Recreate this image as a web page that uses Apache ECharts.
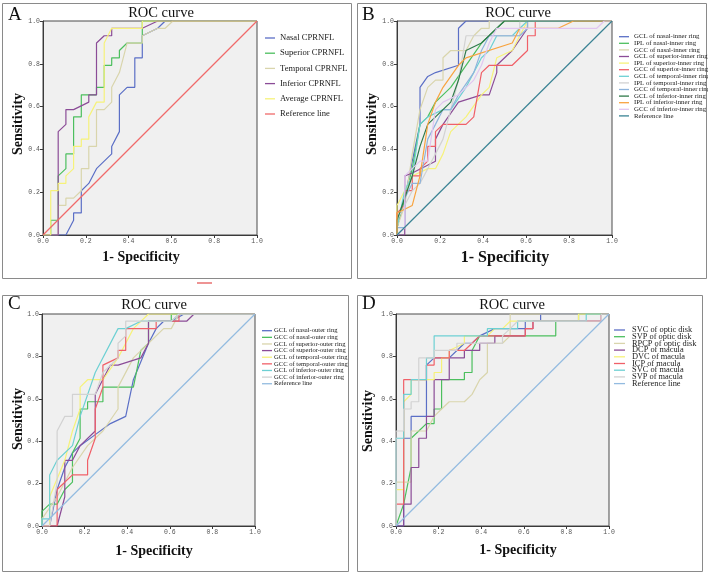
<!DOCTYPE html>
<html><head><meta charset="utf-8">
<script src="https://cdn.jsdelivr.net/npm/echarts@6/dist/echarts.min.js"></script>
<style>html,body{margin:0;padding:0;background:#fff}#c{width:708px;height:575px}</style>
</head><body><div id="c"></div>
<script>
// ---------- Panel A: CPRNFL ----------
const namesA = ['Nasal CPRNFL','Superior CPRNFL','Temporal CPRNFL','Inferior CPRNFL','Average CPRNFL','Reference line'];
const A_nasal = [[0,0],[0.107,0],[0.143,0.069],[0.143,0.103],[0.179,0.103],[0.179,0.207],[0.214,0.241],[0.25,0.31],[0.321,0.379],[0.321,0.414],[0.357,0.483],[0.357,0.655],[0.393,0.69],[0.429,0.69],[0.429,0.828],[0.464,0.828],[0.464,0.931],[0.536,0.966],[0.571,1],[1,1]];
const A_superior = [[0,0],[0.036,0],[0.036,0.069],[0.071,0.069],[0.071,0.276],[0.107,0.31],[0.107,0.379],[0.143,0.379],[0.143,0.552],[0.179,0.552],[0.179,0.655],[0.25,0.655],[0.25,0.69],[0.286,0.69],[0.286,0.793],[0.321,0.793],[0.321,0.828],[0.357,0.828],[0.357,0.862],[0.393,0.897],[0.464,0.897],[0.464,1],[1,1]];
const A_temporal = [[0,0],[0.071,0],[0.071,0.138],[0.107,0.138],[0.107,0.172],[0.143,0.172],[0.179,0.207],[0.179,0.31],[0.214,0.31],[0.214,0.414],[0.25,0.414],[0.25,0.586],[0.286,0.586],[0.321,0.621],[0.321,0.69],[0.357,0.759],[0.393,0.897],[0.464,0.897],[0.464,0.931],[0.536,0.966],[0.571,0.966],[0.607,1],[1,1]];
const A_inferior = [[0,0],[0.071,0],[0.071,0.483],[0.107,0.517],[0.107,0.586],[0.143,0.586],[0.214,0.621],[0.214,0.655],[0.25,0.655],[0.25,0.897],[0.286,0.931],[0.321,0.931],[0.321,0.966],[0.464,0.966],[0.536,1],[1,1]];
const A_average = [[0,0],[0.036,0],[0.036,0.207],[0.071,0.207],[0.071,0.241],[0.107,0.241],[0.107,0.276],[0.143,0.31],[0.143,0.414],[0.179,0.414],[0.179,0.448],[0.214,0.448],[0.214,0.552],[0.25,0.621],[0.286,0.621],[0.286,0.897],[0.321,0.966],[0.464,0.966],[0.464,1],[1,1]];
const refLine = [[0,0],[1,1]];

// ---------- Panel B: inner ring ----------
const namesB = ['GCL of nasal-inner ring','IPL of nasal-inner ring','GCC of nasal-inner ring','GCL of superior-inner ring','IPL of superior-inner ring','GCC of superior-inner ring','GCL of temporal-inner ring','IPL of temporal-inner ring','GCC of temporal-inner ring','GCL of inferior-inner ring','IPL of inferior-inner ring','GCC of inferior-inner ring','Reference line'];
const B_gclNasal = [[0,0],[0,0.034],[0.036,0.172],[0.071,0.345],[0.107,0.517],[0.107,0.69],[0.143,0.741],[0.179,0.759],[0.286,0.793],[0.286,0.966],[0.321,1],[1,1]];
const B_iplNasal = [[0,0],[0,0.034],[0.036,0.172],[0.071,0.31],[0.107,0.517],[0.143,0.552],[0.179,0.621],[0.25,0.69],[0.321,0.793],[0.393,0.897],[0.5,1],[1,1]];
const B_gccNasal = [[0,0],[0,0.034],[0.036,0.138],[0.071,0.379],[0.107,0.586],[0.143,0.69],[0.179,0.724],[0.214,0.724],[0.214,0.828],[0.25,0.862],[0.321,0.862],[0.357,0.931],[0.393,0.966],[0.429,0.966],[0.429,1],[1,1]];
const B_gclSup = [[0,0],[0.036,0],[0.036,0.276],[0.071,0.29],[0.179,0.345],[0.179,0.448],[0.214,0.517],[0.286,0.621],[0.393,0.655],[0.429,0.655],[0.464,0.759],[0.464,0.793],[0.536,0.862],[0.607,0.966],[0.607,1],[1,1]];
const B_iplSup = [[0,0],[0,0.138],[0.036,0.207],[0.071,0.276],[0.143,0.31],[0.179,0.31],[0.214,0.379],[0.25,0.483],[0.321,0.552],[0.393,0.655],[0.429,0.69],[0.464,0.828],[0.536,0.862],[0.571,0.931],[0.607,1],[1,1]];
const B_gccSup = [[0,0],[0,0.103],[0.036,0.138],[0.036,0.207],[0.071,0.207],[0.071,0.276],[0.107,0.276],[0.107,0.31],[0.143,0.345],[0.143,0.414],[0.179,0.414],[0.179,0.483],[0.214,0.517],[0.321,0.517],[0.357,0.552],[0.393,0.759],[0.429,0.793],[0.536,0.793],[0.607,0.862],[0.607,0.931],[0.643,0.931],[0.643,1],[1,1]];
const B_gclTemp = [[0,0],[0,0.034],[0.036,0.207],[0.071,0.276],[0.107,0.517],[0.143,0.552],[0.214,0.586],[0.25,0.586],[0.321,0.69],[0.393,0.828],[0.429,0.862],[0.464,0.931],[0.536,0.931],[0.571,0.966],[0.607,1],[1,1]];
const B_iplTemp = [[0,0],[0,0.069],[0.071,0.207],[0.107,0.241],[0.143,0.31],[0.179,0.379],[0.214,0.448],[0.25,0.586],[0.286,0.724],[0.321,0.931],[0.571,0.931],[0.571,1],[1,1]];
const B_gccTemp = [[0,0],[0,0.034],[0.036,0.034],[0.036,0.172],[0.071,0.241],[0.107,0.241],[0.143,0.448],[0.179,0.517],[0.214,0.586],[0.25,0.586],[0.286,0.655],[0.357,0.759],[0.393,0.862],[0.429,0.931],[0.571,0.931],[0.607,0.966],[0.607,1],[1,1]];
const B_gclInf = [[0,0],[0,0.069],[0.071,0.276],[0.107,0.414],[0.143,0.517],[0.25,0.621],[0.286,0.724],[0.321,0.862],[0.393,0.897],[0.464,0.966],[0.5,1],[1,1]];
const B_iplInf = [[0,0],[0,0.103],[0.071,0.138],[0.107,0.276],[0.143,0.517],[0.179,0.621],[0.214,0.69],[0.286,0.793],[0.321,0.828],[0.536,0.897],[0.571,0.966],[0.75,0.966],[0.821,1],[1,1]];
const B_gccInf = [[0,0],[0.036,0.034],[0.036,0.276],[0.071,0.31],[0.107,0.345],[0.143,0.345],[0.179,0.586],[0.214,0.621],[0.286,0.655],[0.357,0.724],[0.393,0.793],[0.429,0.897],[0.464,0.966],[0.929,0.966],[0.964,1],[1,1]];

// ---------- Panel C: outer ring ----------
const namesC = ['GCL of nasal-outer ring','GCC of nasal-outer ring','GCL of superior-outer ring','GCC of superior-outer ring','GCL of temporal-outer ring','GCC of temporal-outer ring','GCL of inferior-outer ring','GCC of inferior-outer ring','Reference line'];
const C_gclNasal = [[0,0],[0.036,0],[0.071,0.172],[0.107,0.276],[0.143,0.345],[0.179,0.379],[0.25,0.431],[0.321,0.483],[0.393,0.517],[0.429,0.69],[0.5,0.862],[0.536,0.931],[0.571,0.966],[0.607,0.966],[0.667,1],[1,1]];
const C_gccNasal = [[0,0],[0,0.069],[0.036,0.103],[0.071,0.103],[0.107,0.172],[0.143,0.207],[0.143,0.345],[0.179,0.414],[0.179,0.552],[0.214,0.552],[0.214,0.586],[0.286,0.586],[0.286,0.655],[0.429,0.655],[0.464,0.828],[0.5,0.862],[0.5,0.966],[0.607,0.966],[0.607,1],[1,1]];
const C_gclSup = [[0,0],[0,0.034],[0.071,0.138],[0.143,0.276],[0.214,0.379],[0.286,0.448],[0.357,0.552],[0.357,0.655],[0.429,0.793],[0.5,0.862],[0.571,0.931],[0.607,0.931],[0.643,1],[1,1]];
const C_gccSup = [[0,0],[0.071,0],[0.107,0.138],[0.107,0.31],[0.143,0.31],[0.179,0.379],[0.25,0.448],[0.25,0.621],[0.321,0.759],[0.357,0.759],[0.464,0.793],[0.5,0.862],[0.5,0.966],[0.679,0.966],[0.714,1],[1,1]];
const C_gclTemp = [[0,0],[0.036,0],[0.036,0.138],[0.107,0.31],[0.143,0.448],[0.179,0.552],[0.179,0.655],[0.214,0.69],[0.286,0.69],[0.357,0.793],[0.393,0.862],[0.429,0.931],[0.5,1],[1,1]];
const C_gccTemp = [[0,0],[0.071,0],[0.071,0.172],[0.143,0.241],[0.214,0.241],[0.214,0.31],[0.25,0.414],[0.25,0.552],[0.286,0.655],[0.286,0.759],[0.357,0.793],[0.357,0.828],[0.393,0.828],[0.393,0.931],[0.536,0.931],[0.536,0.966],[0.643,0.966],[0.643,1],[1,1]];
const C_gclInf = [[0,0],[0,0.034],[0.036,0.034],[0.036,0.241],[0.071,0.31],[0.143,0.379],[0.179,0.517],[0.25,0.724],[0.357,0.931],[0.393,0.931],[0.464,0.966],[0.607,0.966],[0.643,1],[1,1]];
const C_gccInf = [[0,0],[0.036,0],[0.071,0.207],[0.071,0.448],[0.107,0.517],[0.143,0.517],[0.143,0.621],[0.25,0.621],[0.286,0.724],[0.357,0.793],[0.357,0.862],[0.393,0.897],[0.393,0.966],[0.607,0.966],[0.643,1],[1,1]];

// ---------- Panel D: vessel density ----------
const namesD = ['SVC of optic disk','SVP of optic disk','RPCP of optic disk','DCP of macula','DVC of macula','ICP of macula','SVC of macula','SVP of macula','Reference line'];
const D_svcDisk = [[0,0],[0.036,0],[0.036,0.414],[0.071,0.414],[0.071,0.517],[0.143,0.517],[0.143,0.759],[0.179,0.793],[0.25,0.793],[0.286,0.828],[0.321,0.862],[0.357,0.862],[0.393,0.897],[0.464,0.931],[0.607,0.931],[0.607,0.966],[0.679,0.966],[0.679,1],[1,1]];
const D_svpDisk = [[0,0],[0.036,0.103],[0.071,0.276],[0.071,0.414],[0.107,0.448],[0.143,0.483],[0.179,0.483],[0.179,0.552],[0.214,0.552],[0.214,0.69],[0.321,0.69],[0.321,0.724],[0.357,0.724],[0.357,0.828],[0.393,0.897],[0.75,0.897],[0.75,0.966],[0.857,0.966],[0.857,1],[1,1]];
const D_rpcpDisk = [[0,0],[0,0.207],[0.071,0.207],[0.071,0.448],[0.143,0.448],[0.179,0.517],[0.214,0.552],[0.25,0.586],[0.321,0.586],[0.357,0.621],[0.393,0.69],[0.429,0.724],[0.429,0.862],[0.5,0.862],[0.536,0.897],[0.536,1],[1,1]];
const D_dcpMac = [[0,0],[0.036,0],[0.036,0.103],[0.071,0.103],[0.071,0.276],[0.107,0.276],[0.107,0.414],[0.143,0.414],[0.143,0.517],[0.179,0.517],[0.179,0.69],[0.25,0.69],[0.25,0.793],[0.321,0.793],[0.321,0.828],[0.393,0.828],[0.393,0.862],[0.464,0.862],[0.464,0.897],[0.607,0.897],[0.607,0.931],[0.643,0.931],[0.643,0.966],[0.964,0.966],[0.964,1],[1,1]];
const D_dvcMac = [[0,0],[0,0.172],[0.036,0.172],[0.036,0.586],[0.071,0.621],[0.071,0.69],[0.179,0.69],[0.179,0.724],[0.214,0.724],[0.214,0.793],[0.25,0.793],[0.25,0.828],[0.321,0.862],[0.321,0.897],[0.429,0.897],[0.464,0.931],[0.5,0.931],[0.536,0.966],[0.857,0.966],[0.857,1],[1,1]];
const D_icpMac = [[0,0],[0,0.103],[0.036,0.103],[0.036,0.69],[0.143,0.69],[0.143,0.759],[0.179,0.759],[0.179,0.793],[0.25,0.793],[0.25,0.828],[0.321,0.828],[0.357,0.862],[0.393,0.897],[0.607,0.897],[0.607,0.931],[0.643,0.931],[0.643,0.966],[0.964,0.966],[0.964,1],[1,1]];
const D_svcMac = [[0,0],[0,0.414],[0.036,0.414],[0.036,0.621],[0.071,0.621],[0.071,0.69],[0.143,0.69],[0.143,0.793],[0.179,0.793],[0.179,0.897],[0.429,0.897],[0.429,0.931],[0.571,0.931],[0.571,0.966],[0.893,0.966],[0.893,1],[1,1]];
const D_svpMac = [[0,0],[0,0.448],[0.036,0.448],[0.036,0.552],[0.071,0.552],[0.071,0.586],[0.107,0.586],[0.107,0.793],[0.179,0.793],[0.179,0.828],[0.286,0.828],[0.286,0.862],[0.5,0.862],[0.5,0.897],[0.536,0.931],[0.571,0.966],[0.964,0.966],[0.964,1],[1,1]];

const axisTicks = [0, 0.2, 0.4, 0.6, 0.8, 1.0];

// ---------- styles ----------
const colA = ['#5b6fc6','#4cbf5e','#d9d5ac','#8b4c97','#f6f27a','#f06a6a'];
const colB = ['#5b6fc6','#4cbf5e','#d9d5ac','#8b4c97','#f6f27a','#f06068','#6dd0d3','#d2d2d2','#8fb4dc','#2f7a4a','#f8a440','#e1c6f0','#3a8394'];
const colC = ['#5b6fc6','#4cbf5e','#d9d5ac','#8b4c97','#f6f27a','#f06068','#6dd0d3','#d2d2d2','#93bbe0'];
const colD = ['#5b6fc6','#4cbf5e','#d9d5ac','#8b4c97','#f6f27a','#f06068','#6dd0d3','#d2d2d2','#93bbe0'];

const panels = [
  {names:namesA, cols:colA, data:[A_nasal,A_superior,A_temporal,A_inferior,A_average,refLine],
   grid:{left:43,top:21,width:214,height:214}, box:[2,3,349,275], letter:[8,15,'A'],
   title:[161,13], yname:[18,124], xname:[141,257,14],
   leg:{x1:265,x2:275,tx:280,y0:38,step:15.2,fs:8.6}},
  {names:namesB, cols:colB, data:[B_gclNasal,B_iplNasal,B_gccNasal,B_gclSup,B_iplSup,B_gccSup,B_gclTemp,B_iplTemp,B_gccTemp,B_gclInf,B_iplInf,B_gccInf,refLine],
   grid:{left:397,top:21,width:215,height:214}, box:[357,3,349,275], letter:[362,15,'B'],
   title:[518,13], yname:[372,124], xname:[505,258,16],
   leg:{x1:619,x2:629,tx:634,y0:36.7,step:6.6,fs:6.8}},
  {names:namesC, cols:colC, data:[C_gclNasal,C_gccNasal,C_gclSup,C_gccSup,C_gclTemp,C_gccTemp,C_gclInf,C_gccInf,refLine],
   grid:{left:42,top:314,width:213,height:212}, box:[2,295,346,276], letter:[8,304,'C'],
   title:[154,305], yname:[18,419], xname:[154,551,14],
   leg:{x1:262,x2:272,tx:274,y0:330.7,step:6.63,fs:6.6}},
  {names:namesD, cols:colD, data:[D_svcDisk,D_svpDisk,D_rpcpDisk,D_dcpMac,D_dvcMac,D_icpMac,D_svcMac,D_svpMac,refLine],
   grid:{left:396,top:314,width:213,height:212}, box:[357,295,345,276], letter:[362,304,'D'],
   title:[512,305], yname:[368,421], xname:[518,550,14],
   leg:{x1:614,x2:625,tx:632,y0:330,step:6.7,fs:8.4}}
];

const serif = '"Liberation Serif","Times New Roman",serif';
const grids=[], xAxes=[], yAxes=[], series=[], graphics=[];
panels.forEach((p,i)=>{
  grids.push(Object.assign({show:true, backgroundColor:'#f0f0f0', borderColor:'#4a4a4a', borderWidth:1, containLabel:false}, p.grid));
  const ax = (g)=>({gridIndex:g, type:'value', min:axisTicks[0], max:axisTicks[axisTicks.length-1], interval:0.2,
    axisLine:{show:true, onZero:false, lineStyle:{color:'#3a3a3a', width:1}},
    axisTick:{show:true, length:3, lineStyle:{color:'#3a3a3a'}},
    axisLabel:{formatter:v=>v.toFixed(1), fontSize:6.5, fontFamily:'"Liberation Mono",monospace', color:'#555', margin:3},
    splitLine:{show:false}});
  xAxes.push(ax(i)); yAxes.push(ax(i));
  p.data.forEach((d,k)=>{
    series.push({type:'line', name:p.names[k], xAxisIndex:i, yAxisIndex:i, data:d, showSymbol:false, symbol:'none',
      lineStyle:{color:p.cols[k], width:1.2}, itemStyle:{color:p.cols[k]}, silent:true, animation:false});
  });
  // panel border
  graphics.push({type:'rect', shape:{x:p.box[0]+0.5,y:p.box[1]+0.5,width:p.box[2],height:p.box[3]}, style:{fill:null, stroke:'#8a8a8a', lineWidth:1}, silent:true});
  graphics.push({type:'text', x:p.letter[0], y:p.letter[1], style:{text:p.letter[2], fontSize:19, fontFamily:serif, fill:'#111', align:'left', verticalAlign:'middle'}});
  graphics.push({type:'text', x:p.title[0], y:p.title[1], style:{text:'ROC curve', fontSize:14.5, fontFamily:serif, fill:'#111', align:'center', verticalAlign:'middle'}});
  graphics.push({type:'text', x:p.yname[0], y:p.yname[1], rotation:Math.PI/2, style:{text:'Sensitivity', fontSize:14, fontWeight:'bold', fontFamily:serif, fill:'#111', align:'center', verticalAlign:'middle'}});
  graphics.push({type:'text', x:p.xname[0], y:p.xname[1], style:{text:'1- Specificity', fontSize:p.xname[2], fontWeight:'bold', fontFamily:serif, fill:'#111', align:'center', verticalAlign:'middle'}});
  const L=p.leg;
  p.names.forEach((n,k)=>{
    const y=L.y0+k*L.step;
    graphics.push({type:'line', shape:{x1:L.x1,y1:y,x2:L.x2,y2:y}, style:{stroke:p.cols[k], lineWidth:1.3}, silent:true});
    graphics.push({type:'text', x:L.tx, y:y, style:{text:n, fontSize:L.fs, fontFamily:serif, fill:'#222', align:'left', verticalAlign:'middle'}});
  });
});
// small stray mark below panel A
graphics.push({type:'line', shape:{x1:197,y1:283,x2:212,y2:283}, style:{stroke:'#e87070', lineWidth:1.5}, silent:true});

const chart = echarts.init(document.getElementById('c'), null, {renderer:'canvas'});
chart.setOption({animation:false, grid:grids, xAxis:xAxes, yAxis:yAxes, series:series, graphic:graphics});
</script></body></html>
